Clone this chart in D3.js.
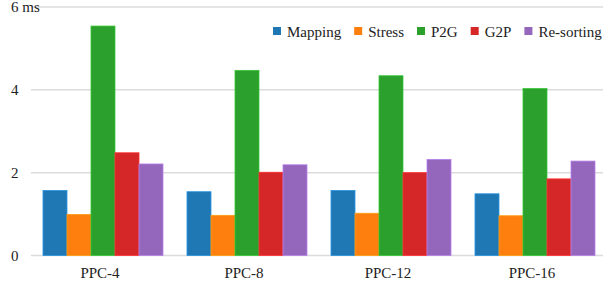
<!DOCTYPE html>
<html>
<head>
<meta charset="utf-8">
<script src="https://cdn.jsdelivr.net/npm/d3@7"></script>
<style>
  body { margin: 0; background: #fff; }
</style>
</head>
<body>
<svg id="chart" width="603" height="287"></svg>
<script>
var groups = ["PPC-4", "PPC-8", "PPC-12", "PPC-16"];
var seriesNames = ["Mapping", "Stress", "P2G", "G2P", "Re-sorting"];
var mapping = [1.57, 1.54, 1.57, 1.49];
var stress = [0.99, 0.97, 1.02, 0.96];
var p2g = [5.54, 4.47, 4.34, 4.03];
var g2p = [2.48, 2.01, 2.00, 1.85];
var resorting = [2.21, 2.19, 2.32, 2.28];
var yTicks = [0, 2, 4, 6];

var colors = ["#1f77b4", "#ff7f0e", "#2ca02c", "#d62728", "#9467bd"];
var allSeries = [mapping, stress, p2g, g2p, resorting];
var fontStack = "'Liberation Serif', 'DejaVu Serif', Times, serif";

var svg = d3.select("svg#chart")
	.attr("font-family", fontStack);

var x0 = d3.scaleBand()
	.domain(groups)
	.range([31, 607])
	.paddingInner(1 / 6)
	.paddingOuter(1 / 12);

var x1 = d3.scaleBand()
	.domain(seriesNames)
	.range([0, x0.bandwidth()]);

var y = d3.scaleLinear()
	.domain([0, 6])
	.range([255.5, 7]);

var color = d3.scaleOrdinal(seriesNames, colors);

// grid lines
svg.append("g")
	.selectAll("line")
	.data(yTicks)
	.enter().append("line")
	  .attr("x1", 31)
	  .attr("x2", 603)
	  .attr("y1", function(d) { return y(d); })
	  .attr("y2", function(d) { return y(d); })
	  .attr("stroke", "#dcdcdc")
	  .attr("stroke-width", 1.5);

// y tick labels
svg.append("g")
	.selectAll("text")
	.data(yTicks)
	.enter().append("text")
	  .attr("x", 11)
	  .attr("y", function(d) { return y(d); })
	  .attr("dy", "0.35em")
	  .attr("font-family", fontStack)
	  .attr("font-size", 15)
	  .attr("fill", "#222")
	  .text(function(d) { return d === 6 ? "6 ms" : d; });

// bars
var rows = groups.map(function(g, i) {
	return seriesNames.map(function(s, j) { return { group: g, key: s, value: allSeries[j][i] }; });
});

svg.append("g")
	.selectAll("g")
	.data(rows)
	.enter().append("g")
	  .attr("transform", function(d, i) { return "translate(" + x0(groups[i]) + ",0)"; })
	.selectAll("rect")
	.data(function(d) { return d; })
	.enter().append("rect")
	  .attr("x", function(d) { return x1(d.key); })
	  .attr("width", x1.bandwidth())
	  .attr("y", function(d) { return y(d.value); })
	  .attr("height", function(d) { return y(0) - y(d.value); })
	  .attr("fill", function(d) { return color(d.key); })
	  .attr("stroke", function(d) { return d3.color(color(d.key)).brighter(0.6); })
	  .attr("stroke-width", 0.8);

// x labels
svg.append("g")
	.selectAll("text")
	.data(groups)
	.enter().append("text")
	  .attr("x", function(d) { return x0(d) + x0.bandwidth() / 2 - 3; })
	  .attr("y", 278)
	  .attr("text-anchor", "middle")
	  .attr("font-family", fontStack)
	  .attr("font-size", 15)
	  .attr("fill", "#222")
	  .text(function(d) { return d; });

// legend
var legend = svg.append("g");
var lx = 273;
seriesNames.forEach(function(s) {
	legend.append("rect")
	  .attr("x", lx)
	  .attr("y", 27)
	  .attr("width", 8)
	  .attr("height", 8)
	  .attr("fill", color(s));
	var t = legend.append("text")
	  .attr("x", lx + 14)
	  .attr("y", 36.5)
	  .attr("font-family", fontStack)
	  .attr("font-size", 15)
	  .attr("fill", "#222")
	  .text(s);
	lx += 14 + t.node().getComputedTextLength() + 13;
});
</script>
</body>
</html>
